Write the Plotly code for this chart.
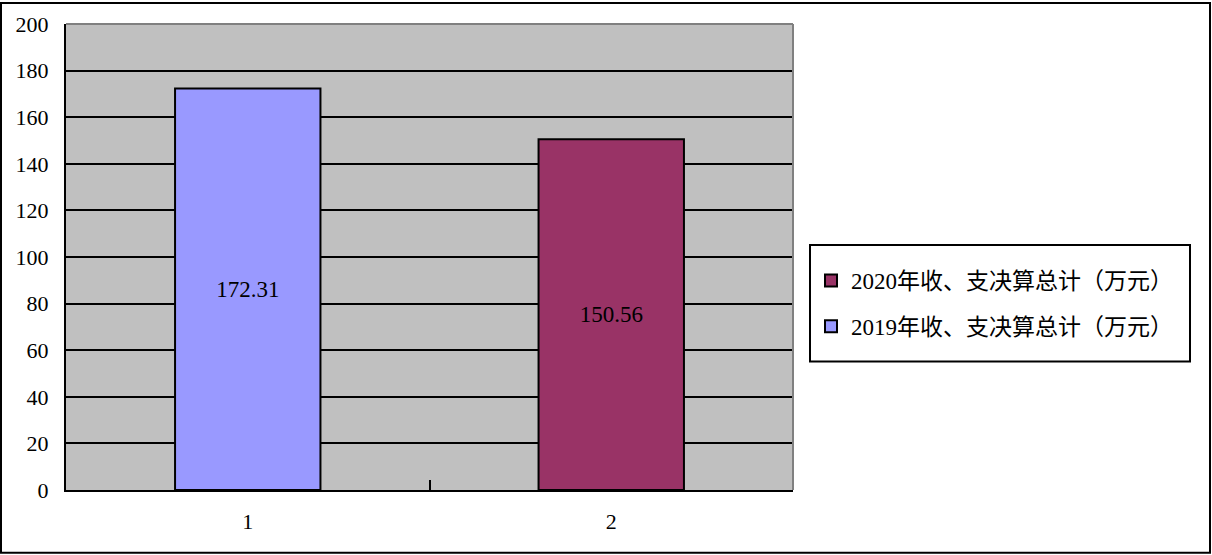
import plotly.graph_objects as go

categories = ["1", "2"]
series_names = ["2019年收、支决算总计（万元）", "2020年收、支决算总计（万元）"]
series_values = [172.31, 150.56]
series_colors = ["#9999FF", "#993366"]
legend_ranks = [2, 1]
y_ticks = [0, 20, 40, 60, 80, 100, 120, 140, 160, 180, 200]

W, H = 1212, 555
L, R, T, B = 66, 793, 22, 490
pw, ph = R - L, B - T

def px_x(p):
    return (p - L) / pw

def px_y(p):
    return (B - p) / ph

FONT = "Liberation Serif, Noto Sans CJK SC, serif"

fig = go.Figure()
for i, (name, val, col) in enumerate(zip(series_names, series_values, series_colors)):
    fig.add_trace(go.Bar(
        x=[categories[i]], y=[val], name=name,
        marker=dict(color=col, line=dict(color="black", width=2)),
        text=[f"{val:.2f}"], textposition="inside", insidetextanchor="middle",
        textfont=dict(family=FONT, size=23, color="black"),
        legendgroup=f"g{i}", legendrank=legend_ranks[i], cliponaxis=False,
    ))

fig.update_layout(
    width=W, height=H,
    margin=dict(l=L, r=W - R, t=T, b=H - B, pad=0),
    paper_bgcolor="white", plot_bgcolor="#C0C0C0",
    barmode="overlay", bargap=0.6,
    showlegend=True,
    font=dict(family=FONT, color="black"),
    legend=dict(
        x=px_x(811), y=px_y(258), xanchor="left", yanchor="top",
        traceorder="grouped", tracegroupgap=13,
        font=dict(family=FONT, size=23, color="black"),
        bgcolor="rgba(0,0,0,0)", borderwidth=0,
    ),
    xaxis=dict(
        type="category", range=[-0.5, 1.5],
        categoryorder="array", categoryarray=categories,
        showline=True, linecolor="black", linewidth=2,
        ticks="inside", tickson="boundaries", ticklen=10, tickwidth=2, tickcolor="black",
        showgrid=False, tickfont=dict(family=FONT, size=22, color="black"),
        ticklabelstandoff=11,
    ),
    yaxis=dict(
        range=[0, 200], tickvals=y_ticks,
        showline=True, linecolor="black", linewidth=2,
        ticks="inside", ticklen=10, tickwidth=2, tickcolor="black",
        showgrid=True, gridcolor="black", gridwidth=2,
        zeroline=False,
        tickfont=dict(family=FONT, size=22, color="black"),
        ticklabelstandoff=11,
    ),
    shapes=[
        dict(type="line", xref="paper", yref="paper", x0=0, x1=1, y0=1, y1=1,
             line=dict(color="#808080", width=2), layer="above"),
        dict(type="line", xref="paper", yref="paper", x0=1, x1=1, y0=0, y1=1,
             line=dict(color="#808080", width=2), layer="above"),
        dict(type="rect", xref="paper", yref="paper",
             x0=px_x(810), x1=px_x(1190), y0=px_y(361), y1=px_y(244),
             line=dict(color="black", width=2), fillcolor="rgba(0,0,0,0)", layer="above"),
        dict(type="rect", xref="paper", yref="paper",
             x0=px_x(1), x1=px_x(1210), y0=px_y(553), y1=px_y(1),
             line=dict(color="black", width=2), fillcolor="rgba(0,0,0,0)", layer="above"),
    ],
)

fig.write_html(
    "out.html",
    config={"displayModeBar": False},
    post_script="document.body.style.margin='0';document.body.style.overflow='hidden';",
)
